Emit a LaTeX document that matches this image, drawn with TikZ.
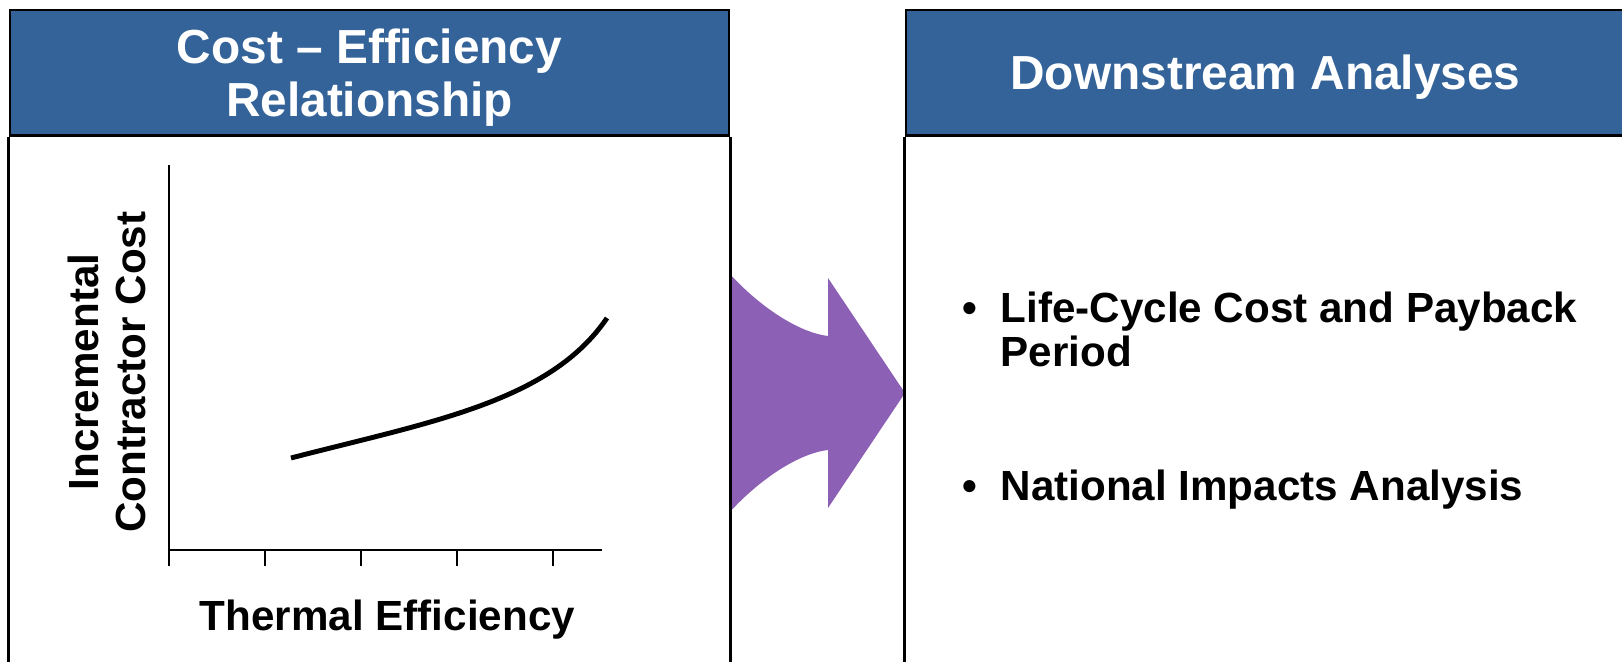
\documentclass[tikz,border=0pt]{standalone}
\usepackage{fontspec}
\setmainfont{Liberation Sans}
\usepackage{xcolor}
\usepackage{tikz}
\usetikzlibrary{positioning,calc}
\definecolor{headerblue}{RGB}{52,99,153}
\definecolor{flowpurple}{RGB}{140,96,181}

\begin{document}
\begin{tikzpicture}[
    header/.style={draw=black, line width=0.8pt, fill=headerblue, text=white,
        font=\fontsize{13.6}{14.8}\selectfont\bfseries, align=center,
        minimum width=7.19cm, minimum height=1.255cm, inner sep=0pt, text depth=0pt},
    panel/.style={draw=black, line width=0.8pt},
    axisline/.style={line width=0.6pt},
    axislabel/.style={font=\fontsize{12}{13.4}\selectfont\bfseries, align=center, inner sep=0pt},
    itemtext/.style={font=\fontsize{12}{12.7}\selectfont\bfseries, align=left, inner sep=0pt}
]
    % Page area
    \useasboundingbox (0,0) rectangle (16.22,6.62);
    \coordinate (pagebottom) at (0,0);

    % Flow arrow between the panels
    \fill[flowpurple] (7.29,3.89) .. controls (7.55,3.60) and (7.95,3.30) .. (8.28,3.26)
        -- (8.28,3.84) -- (9.05,2.69) -- (8.28,1.54) -- (8.28,2.12)
        .. controls (7.95,2.08) and (7.55,1.78) .. (7.29,1.49) -- cycle;

    % Panel headers
    \node[header] (costhead) at (3.695,5.893) {Cost \textendash\ Efficiency\\Relationship};
    \node[header] (downhead) at (12.655,5.893) {Downstream Analyses};

    % Panel sides, open at the bottom of the page
    \draw[panel] (costhead.south west) -- (costhead.south west |- pagebottom);
    \draw[panel] (costhead.south east) -- (costhead.south east |- pagebottom);
    \draw[panel] (downhead.south west) -- (downhead.south west |- pagebottom);

    % Axes
    \coordinate (origin) at (1.69,1.12);
    \draw[axisline] (1.69,4.97) -- (origin) -- (6.02,1.12);

    % Tick marks - x axis
    \foreach \x in {1.69,2.65,3.61,4.57,5.53} {
        \draw[axisline] (\x,1.12) -- (\x,0.96);
    }

    % Cost curve
    \draw[line width=1.4pt] (2.91,2.04) .. controls (4.3,2.40) and (5.5,2.60) .. (6.07,3.44);

    % Axis titles
    \node[axislabel] (xtitle) at (3.875,0.42) {Thermal Efficiency};
    \node[axislabel, rotate=90] (ytitle) at (1.07,2.90) {Incremental\\Contractor Cost};

    % Downstream items (base anchor sits on the last line)
    \node[itemtext, anchor=base west] (lcc) at (10.00,2.953) {Life-Cycle Cost and Payback\\Period};
    \node[itemtext, anchor=base west] (nia) at (10.00,1.61) {National Impacts Analysis};
    \node[itemtext, anchor=base east] (lccdot) at ([xshift=-0.225cm, yshift=12.7pt]lcc.base west) {\textbullet};
    \node[itemtext, anchor=base east] (niadot) at ([xshift=-0.225cm]nia.base west) {\textbullet};

\end{tikzpicture}
\end{document}
